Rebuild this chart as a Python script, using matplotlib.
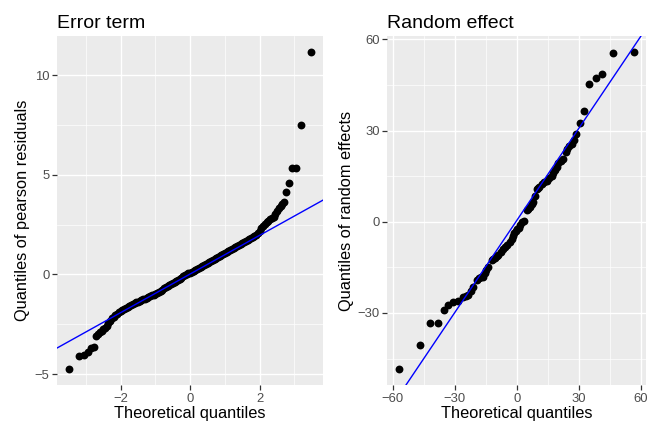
import matplotlib
matplotlib.use("Agg")
import matplotlib.pyplot as plt

plt.rcParams['font.family'] = ['Liberation Sans', 'DejaVu Sans']

# ---- left panel: pearson residuals (theoretical quantile, sample quantile) ----
# lower tail
low_x = [-3.48, -3.19, -3.04, -2.94, -2.85, -2.78]
low_y = [-4.75, -4.08, -4.03, -3.87, -3.67, -3.62]
# dense middle run
mid_x = [-2.70, -2.65, -2.60, -2.55, -2.50, -2.45, -2.40, -2.35, -2.30, -2.25,
         -2.20, -2.15, -2.10, -2.05, -2.00, -1.95, -1.90, -1.85, -1.80, -1.75,
         -1.70, -1.65, -1.60, -1.55, -1.50, -1.45, -1.40, -1.35, -1.30, -1.25,
         -1.20, -1.15, -1.10, -1.05, -1.00, -0.95, -0.90, -0.85, -0.80, -0.75,
         -0.70, -0.65, -0.60, -0.55, -0.50, -0.45, -0.40, -0.35, -0.30, -0.25,
         -0.20, -0.15, -0.10, -0.05, 0.00, 0.05, 0.10, 0.15, 0.20, 0.25,
         0.30, 0.35, 0.40, 0.45, 0.50, 0.55, 0.60, 0.65, 0.70, 0.75,
         0.80, 0.85, 0.90, 0.95, 1.00, 1.05, 1.10, 1.15, 1.20, 1.25,
         1.30, 1.35, 1.40, 1.45, 1.50, 1.55, 1.60, 1.65, 1.70, 1.75,
         1.80, 1.85, 1.90, 1.95, 2.00, 2.05, 2.10, 2.15, 2.20, 2.25,
         2.30, 2.35, 2.40, 2.45, 2.50, 2.55, 2.60, 2.65, 2.70]
mid_y = [-3.10, -3.00, -2.90, -2.82, -2.75, -2.68, -2.60, -2.45, -2.32, -2.21,
         -2.12, -2.04, -1.97, -1.91, -1.86, -1.80, -1.74, -1.69, -1.64, -1.58,
         -1.53, -1.49, -1.45, -1.41, -1.37, -1.33, -1.30, -1.26, -1.22, -1.18,
         -1.14, -1.10, -1.05, -1.01, -0.96, -0.91, -0.86, -0.81, -0.76, -0.70,
         -0.65, -0.60, -0.54, -0.49, -0.43, -0.38, -0.32, -0.27, -0.21, -0.16,
         -0.10, -0.05, 0.00, 0.05, 0.09, 0.14, 0.19, 0.24, 0.28, 0.33,
         0.38, 0.43, 0.48, 0.53, 0.58, 0.63, 0.68, 0.73, 0.78, 0.83,
         0.88, 0.93, 0.98, 1.03, 1.08, 1.13, 1.18, 1.23, 1.28, 1.33,
         1.38, 1.43, 1.48, 1.52, 1.57, 1.62, 1.67, 1.72, 1.77, 1.82,
         1.88, 1.94, 2.00, 2.09, 2.20, 2.31, 2.42, 2.52, 2.62, 2.70,
         2.78, 2.83, 2.88, 3.02, 3.18, 3.32, 3.45, 3.54, 3.62]
# upper tail
high_x = [2.77, 2.83, 2.92, 3.04, 3.19, 3.47]
high_y = [4.11, 4.58, 5.32, 5.32, 7.50, 11.16]
err_line = (0.97, 0.02)  # slope, intercept of reference line

# ---- right panel: random effects ----
re_x = [-56.8, -46.9, -41.8, -38.1, -35.2, -33.1, -30.7, -28.3, -25.8, -24.6,
        -23.4, -22.2, -21.0, -19.3, -18.1, -17.1, -16.1, -15.5, -14.9, -13.7,
        -12.1, -11.3, -10.5, -9.7, -8.9, -7.6, -6.5, -5.6, -4.8, -3.2,
        -2.5, -1.9, -1.2, -0.5, 0.2, 1.0, 1.8, 2.7, 3.7, 4.8,
        5.6, 6.4, 7.2, 8.0, 8.8, 9.7, 10.4, 11.0, 12.1, 13.3,
        14.5, 15.7, 16.9, 17.7, 18.5, 19.3, 20.1, 21.2, 22.3, 23.9,
        24.5, 25.2, 26.6, 27.6, 28.7, 30.6, 32.6, 35.1, 38.2, 41.4,
        46.7, 56.7]
re_y = [-48.5, -40.6, -33.4, -33.3, -29.0, -27.5, -26.3, -26.0, -24.9, -24.5,
        -24.1, -22.8, -21.6, -19.2, -18.6, -18.3, -18.1, -17.0, -15.9, -14.8,
        -12.6, -12.2, -11.8, -11.4, -11.0, -10.0, -8.8, -8.2, -7.7, -6.6,
        -5.6, -4.7, -3.8, -3.0, -2.5, -2.0, -1.2, 0.0, 0.3, 3.8,
        4.3, 4.9, 5.8, 6.6, 8.6, 10.7, 11.1, 11.5, 12.4, 13.0,
        13.5, 14.3, 15.1, 16.0, 17.0, 18.1, 19.2, 20.0, 20.6, 22.8,
        24.0, 25.0, 25.5, 27.0, 28.8, 32.6, 36.4, 45.3, 47.2, 48.5,
        55.4, 55.9]
re_line = (1.01, 0.4)

fig = plt.figure(figsize=(6.47, 4.25), dpi=100)
ax1 = fig.add_axes([0.0881, 0.0941, 0.4111, 0.8212])
ax2 = fig.add_axes([0.5989, 0.0941, 0.3995, 0.8212])


def gg_style(ax, xmaj, xmin, ymaj, ymin):
    ax.set_facecolor('#EBEBEB')
    for s in ax.spines.values():
        s.set_visible(False)
    ax.set_xticks(xmaj)
    ax.set_xticks(xmin, minor=True)
    ax.set_yticks(ymaj)
    ax.set_yticks(ymin, minor=True)
    ax.grid(True, which='major', color='white', linewidth=1.0)
    ax.grid(True, which='minor', color='white', linewidth=0.5)
    ax.set_axisbelow(True)
    ax.tick_params(which='major', length=3.5, width=0.9, color='#333333',
                   labelcolor='#4D4D4D', labelsize=9.4, pad=2)
    ax.tick_params(which='minor', length=0)


# left
for xs, ys in [(low_x, low_y), (mid_x, mid_y), (high_x, high_y)]:
    ax1.scatter(xs, ys, s=32, color='black', zorder=3, linewidths=0)
xl = (-3.83, 3.82)
ax1.plot(xl, [err_line[0] * v + err_line[1] for v in xl], color='blue', lw=1.0, zorder=4)
ax1.set_xlim(xl)
ax1.set_ylim(-5.55, 11.96)
gg_style(ax1, [-2, 0, 2], [-3, -1, 1, 3], [-5, 0, 5, 10], [-2.5, 2.5, 7.5])
ax1.set_title('Error term', loc='left', fontsize=14, pad=6)
ax1.set_xlabel('Theoretical quantiles', fontsize=11.8, labelpad=1)
ax1.set_ylabel('Quantiles of pearson residuals', fontsize=11.8, labelpad=3)

# right
ax2.scatter(re_x, re_y, s=32, color='black', zorder=3, linewidths=0)
xr = (-62.5, 62.5)
ax2.plot(xr, [re_line[0] * v + re_line[1] for v in xr], color='blue', lw=1.0, zorder=4)
ax2.set_xlim(xr)
ax2.set_ylim(-53.7, 61.1)
gg_style(ax2, [-60, -30, 0, 30, 60], [-45, -15, 15, 45], [-30, 0, 30, 60], [-45, -15, 15, 45])
ax2.set_title('Random effect', loc='left', fontsize=14, pad=6)
ax2.set_xlabel('Theoretical quantiles', fontsize=11.8, labelpad=1)
ax2.set_ylabel('Quantiles of random effects', fontsize=11.8, labelpad=3)

fig.savefig('out.png', dpi=100)
